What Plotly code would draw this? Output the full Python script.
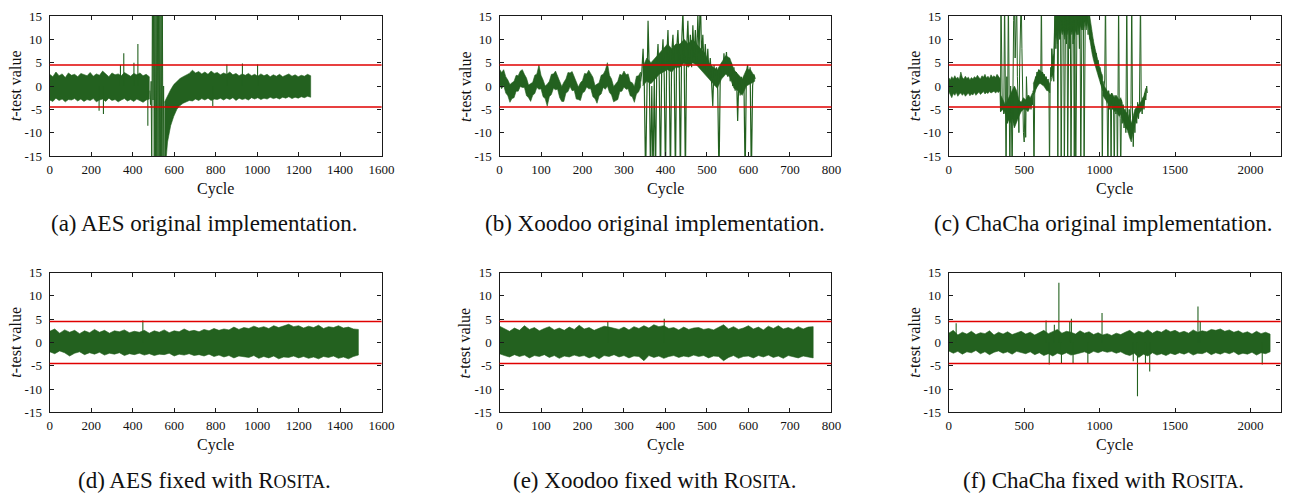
import plotly.graph_objects as go

# ---------------------------------------------------------------------------
# Welch t-test traces per clock cycle.  Dense noisy stretches are stored as
# upper / lower envelopes, isolated excursions as spikes, and the unstable
# stretches as the raw zig-zag of the trace.
# ---------------------------------------------------------------------------

# (a) AES, original implementation
AES_O_BAND1_CYC = list(range(0, 481, 15))
AES_O_BAND1_HI = [2.5, 2.0, 3.0, 2.2, 2.6, 1.8, 2.8, 2.3, 2.5, 2.0,
                  2.7, 2.4, 2.2, 2.9, 2.1, 2.6, 2.3, 3.2, 2.5, 2.0,
                  2.8, 2.4, 2.6, 2.2, 2.9, 2.5, 2.1, 2.7, 2.4, 2.8,
                  2.2, 2.5, 2.0]
AES_O_BAND1_LO = [-3.0, -3.3, -2.6, -3.1, -2.8, -3.4, -2.9, -3.0, -2.7, -3.2,
                  -2.8, -3.3, -2.9, -3.1, -2.7, -3.4, -3.0, -2.8, -3.3, -2.6,
                  -3.1, -2.9, -3.4, -3.0, -2.7, -3.2, -2.9, -3.3, -2.8, -3.1,
                  -3.5, -3.0, -2.8]
AES_O_BURST_CYC = list(range(483, 554, 3))
AES_O_BURST_T = [-1, -4, 1, -20, 20, -3, 20, -20, 20, -20, 20, -20,
                 20, -20, 20, -20, 20, -20, 20, -20, 20, -20, 0, -20]
AES_O_BAND2_CYC = list(range(553, 1259, 15))
AES_O_BAND2_HI = [-3.5, -2.0, -0.8, 0.3, 1.0, 1.6, 2.0, 2.4, 2.7, 3.4,
                  2.8, 3.1, 2.6, 3.0, 2.5, 3.2, 2.7, 2.9, 2.4, 2.8,
                  2.5, 3.0, 2.4, 2.7, 2.2, 2.6, 2.3, 2.7, 2.2, 2.5,
                  2.1, 2.6, 2.2, 2.5, 2.0, 2.4, 2.1, 2.5, 2.0, 2.3,
                  2.6, 2.1, 2.4, 2.0, 2.3, 2.1, 2.5, 2.2]
AES_O_BAND2_LO = [-20, -12, -8.5, -6.5, -5.0, -4.2, -3.7, -3.4, -3.1, -3.2,
                  -2.8, -3.1, -2.7, -3.0, -2.6, -3.1, -2.8, -2.9, -2.6, -3.0,
                  -2.6, -2.9, -2.5, -3.1, -2.6, -2.9, -2.7, -3.0, -2.5, -2.8,
                  -2.5, -2.9, -2.6, -2.8, -2.4, -2.7, -2.5, -2.8, -2.4, -2.6,
                  -2.3, -2.7, -2.4, -2.6, -2.3, -2.5, -2.2, -2.4]
AES_O_SPIKE_CYC = [238, 259, 341, 357, 406, 425, 473, 786, 854, 929, 1002]
AES_O_SPIKE_T = [-5.3, -6.0, 4.5, 7.0, 5.0, 9.0, -8.5, -4.3, 4.6, 4.8, 4.6]

# (b) Xoodoo, original implementation
XOO_O_BAND_CYC = list(range(0, 341, 5))
XOO_O_BAND_HI = [3.6, 2.9, 3.5, 2.0, 1.3, 0.3, 0.7, 1.0, 2.3, 2.2,
                 3.2, 3.5, 2.5, 1.7, 0.2, 0.6, 0.8, 2.3, 2.6, 4.5,
                 2.3, 1.3, 0.0, 0.4, 1.0, 2.5, 2.6, 3.2, 2.1, 1.3,
                 -0.1, 0.8, 1.5, 2.9, 2.8, 3.1, 1.9, 1.1, -0.2, 0.7,
                 1.2, 2.7, 2.6, 3.4, 2.5, 1.9, 0.1, 0.5, 0.7, 2.3,
                 2.5, 3.4, 5.0, 2.3, 1.5, -0.1, 0.6, 1.0, 2.5, 2.3,
                 3.2, 2.4, 2.6, 0.9, 0.7, -0.1, 2.1, 2.2, 3.0]
XOO_O_BAND_LO = [0.3, -0.6, 0.1, -1.5, -2.1, -3.5, -2.7, -2.5, -1.1, -1.1,
                 -0.1, -0.3, -0.3, -2.1, -2.5, -3.3, -2.0, -1.6, -0.3, -0.7,
                 -0.6, -2.3, -2.7, -4.3, -2.3, -1.8, -0.5, -0.8, -0.7, -2.5,
                 -3.3, -3.3, -1.5, -1.2, -0.1, -1.0, -0.9, -2.8, -2.9, -3.1,
                 -1.5, -1.2, -0.2, -0.6, -0.6, -2.3, -2.7, -3.7, -2.1, -1.7,
                 -0.3, -0.7, 0.0, -1.4, -1.9, -3.4, -3.2, -2.9, -1.2, -1.1,
                 -0.2, -0.7, -0.6, -2.1, -2.3, -3.5, -1.7, -1.3, -0.2]
XOO_O_BAND2_CYC = list(range(345, 616, 10))
XOO_O_BAND2_HI = [4, 6, 5, 6, 7, 8, 9, 8, 9, 9,
                  10, 9, 10, 9, 8, 7, 5, 4, 3.5, 5,
                  6.5, 6, 3.5, 2.5, 1.5, 3.5, 3.5, 2]
XOO_O_BAND2_LO = [0, 1, 0.5, 1.5, 2.5, 3, 3.5, 3, 4, 4,
                  5, 4, 5, 4.5, 3.5, 2.5, 1.5, 0.5, -0.5, 1.5,
                  2.5, 2, -0.5, -1, -2, 0, 0.5, 1]
XOO_O_BURST_CYC = list(range(340, 617, 3))
XOO_O_BURST_T = [1, 3, 8, 0, -20, 2, 14, 3, -20, 0,
                 -20, 2, -20, 4, 9, 1, -20, 5, 10, 2,
                 -20, 6, 12, 3, -20, 7, 11, 4, -20, 8,
                 12, 5, -20, 9, 16, 6, -20, 8, 14, 5,
                 11, 4, 13, 6, 12, 5, 15, 7, 20, 6,
                 11, 4, 9, 3, 8, 2, 6, 1, -4.3, 4.5,
                 0, 4, -1, -20, 2, 5, 2, 7, 3, 7.3,
                 2, 6, 1, 5, 0, 4, -1, 3, -7.5, 2,
                 -2, 2, -1, 2, -20, 3, 4.5, 1, 4, -20,
                 0, 2.5, 1.5]

# (c) ChaCha, original implementation
CHA_O_BAND_CYC = list(range(0, 341, 10))
CHA_O_BAND_HI = [1.8, 1.3, 2.0, 1.5, 2.2, 1.6, 1.9, 1.4, 3.0, 1.8,
                 1.5, 2.1, 1.6, 1.9, 1.3, 1.8, 1.5, 2.0, 1.7, 2.3,
                 1.8, 1.5, 2.2, 1.9, 2.5, 1.7, 2.1, 1.6, 2.4, 1.9,
                 2.2, 1.8, 2.5, 2.0, 1.6]
CHA_O_BAND_LO = [-1.2, -1.8, -2.5, -1.6, -2.0, -1.4, -2.2, -1.7, -1.5, -2.0,
                 -1.6, -2.2, -1.8, -1.5, -2.1, -1.7, -1.9, -1.4, -2.0, -1.6,
                 -1.3, -1.8, -1.5, -1.2, -1.7, -1.4, -1.6, -1.2, -1.5, -1.3,
                 -1.1, -1.5, -1.2, -1.4, -1.0]
CHA_O_BAND2_CYC = list(range(345, 561, 15))
CHA_O_BAND2_HI = [-2, -3, -4, -3, -2, -1, 0, -1, -3, -3.5, -2.5, -3, -2, -2.5, -1.5]
CHA_O_BAND2_LO = [-5.5, -5, -6, -7, -8, -7, -9, -8, -6.5, -5.5, -5, -5, -5.5, -4.5, -4]
CHA_O_BAND3_CYC = list(range(560, 671, 10))
CHA_O_BAND3_HI = [0.5, 1.5, 2.5, 3.0, 3.5, 3.2, 3.0, 2.5, 2.0, 1.5, 1.0, 0.5]
CHA_O_BAND3_LO = [-2.0, -1.5, -0.5, 0.0, 0.5, 0.5, 0.2, 0.0, -0.5, -1.0, -1.0, -1.5]
CHA_O_BAND4_CYC = list(range(680, 929, 8))
CHA_O_BAND4_HI = [8, 6, 7, 16, 16, 16, 16, 16, 16, 16,
                  16, 16, 16, 16, 16, 16, 16, 16, 16, 16,
                  16, 16, 16, 16, 16, 16, 16, 16, 16, 16,
                  16, 16]
CHA_O_BAND4_LO = [1, 2, 3, 10, 11, 9, 12, 10, 12, 11,
                  12, 10, 12, 11, 12, 10, 12, 11, 12, 10,
                  12, 11, 13, 11, 13, 12, 13, 12, 14, 12,
                  14, 13]
CHA_O_BAND5_CYC = list(range(930, 1021, 10))
CHA_O_BAND5_HI = [16, 13.5, 11.5, 9.5, 8, 6.5, 5, 4, 3, 2]
CHA_O_BAND5_LO = [11, 9, 7, 5.5, 4, 3, 2, 1, 0, -1]
CHA_O_BAND6_CYC = list(range(1020, 1151, 10))
CHA_O_BAND6_HI = [0.5, 0, -0.5, -1, -1.5, -2, -1.5, -2, -2.5, -2, -2.5, -3, -2.5, -3.5]
CHA_O_BAND6_LO = [-2, -2.5, -3, -3.5, -4, -4.5, -4, -5, -5.5, -5, -6, -6.5, -6, -7]
CHA_O_BAND7_CYC = list(range(1150, 1317, 12))
CHA_O_BAND7_HI = [-4, -5, -5.5, -6, -7, -8, -6.5, -5, -4.5, -4, -3.5, -3, -2, -0.5]
CHA_O_BAND7_LO = [-7, -8, -9, -9.5, -11, -12, -10, -8, -7, -6, -5.5, -5, -4, -2]
CHA_O_BURST_CYC = [340, 343, 346, 350, 355, 360, 365, 370, 375, 380,
                   385, 390, 395, 400, 405, 410, 415, 420, 425, 430,
                   435, 440, 445, 450, 455, 460, 465, 470, 475, 480,
                   485, 490, 495, 500, 505, 510, 515, 520, 525, 530,
                   535, 540, 545, 550, 555, 560, 565, 570, 575, 580,
                   585, 590, 595, 600, 605, 610, 614, 618, 622, 628,
                   634, 640, 646, 652, 658, 664, 668, 672, 676, 680,
                   684, 688, 692, 696, 700, 705, 710, 715, 720, 723,
                   727, 732, 737, 741, 745, 749, 753, 758, 762, 766,
                   770, 775, 780, 785, 788, 792, 797, 802, 806, 810,
                   814, 819, 824, 828, 832, 836, 842, 846, 851, 856,
                   861, 866, 870, 875, 879, 884, 889, 893, 897, 901,
                   906, 912, 918, 924, 930, 936, 942, 948, 954, 960,
                   966, 972, 978, 984, 990, 996, 1002, 1008, 1014, 1018,
                   1022, 1028, 1034, 1039, 1044, 1050, 1055, 1060, 1066, 1072,
                   1076, 1080, 1086, 1092, 1097, 1102, 1108, 1114, 1118, 1122,
                   1126, 1130, 1136, 1140, 1145, 1150, 1156, 1162, 1168, 1174,
                   1180, 1185, 1190, 1196, 1202, 1208, 1213, 1218, 1223, 1228,
                   1234, 1240, 1246, 1252, 1258, 1264, 1271, 1276, 1282, 1288,
                   1294, 1300, 1306, 1312, 1316]
CHA_O_BURST_T = [-1, -5.5, 20, -3, -5, -4, -6, 20, -3, -20,
                 2, -8, 20, -12, -20, 0, -5, -20, 3, 14,
                 20, 6, 12, 20, 2, -6, -10, 4, 12, 20,
                 8, -4, -10, -12, -4, -11, 2, -3, -5, -2,
                 -4.5, -3, -5, -2.5, -4, -1, -20, 0, 2, -0.5,
                 3, 0.5, 3.5, 1, 3, 1.5, 20, 2, 3, 0.5,
                 2.5, 0, 2, -0.5, 1.5, -0.5, -20, 0, 4, 2,
                 8, 3, 6, 1, 5, 20, 8, 15, 10, -20,
                 12, 20, 10, 14, -20, 8, 20, 12, 16, -20,
                 10, 20, 9, 14, -20, 11, 20, 8, 15, -20,
                 10, 20, 9, 14, -20, 12, -20, 9, 20, 11,
                 15, 8, 20, -20, 10, 20, 12, 16, -20, 12,
                 20, 13, 15, 11, 16, 10, 12, 8, 10, 6,
                 8.5, 4.5, 7, 3.5, 5.5, 2, 4, 0.5, 2.5, -20,
                 1, -1, 1.5, 20, -2, -4.5, -20, -1, -5, -2,
                 -20, -1.5, -5, -2.5, -20, -2, -6, -3, -20, -2,
                 20, -3, -7, -20, -3, -8, -4, -9, -5, -10,
                 20, -6, -10, -5, -9, -4, 20, -6, -13, -7,
                 -10, -5, -8, -3.5, -7, -4, 20, -4, -6, -2.5,
                 -5, -1.5, -3, 0, -1.5]

# (d) AES, fixed with Rosita
AES_F_BAND_CYC = list(range(0, 1489, 24))
AES_F_BAND_HI = [2.4, 2.9, 2.0, 2.7, 2.2, 2.6, 1.9, 2.5, 2.1, 2.8,
                 2.2, 2.6, 2.0, 2.5, 2.3, 2.7, 2.1, 2.4, 2.2, 2.6,
                 2.0, 2.5, 2.2, 2.7, 2.1, 2.5, 2.3, 2.9, 2.4, 2.6,
                 2.3, 2.8, 2.5, 3.0, 2.6, 2.9, 2.7, 3.3, 2.8, 3.2,
                 3.0, 3.5, 3.1, 3.4, 3.0, 3.6, 3.2, 3.5, 3.9, 3.4,
                 3.6, 3.1, 3.5, 3.2, 3.7, 3.0, 3.4, 3.2, 3.6, 3.1,
                 3.3, 2.9, 2.8]
AES_F_BAND_LO = [-2.0, -2.4, -1.8, -2.2, -2.9, -2.3, -2.0, -2.6, -2.2, -2.5,
                 -2.1, -2.7, -2.3, -2.5, -2.2, -2.8, -2.4, -2.6, -2.3, -2.7,
                 -2.4, -2.8, -2.5, -2.6, -2.3, -2.9, -2.5, -2.7, -2.4, -2.8,
                 -2.6, -2.9, -2.5, -3.0, -2.7, -3.1, -2.8, -3.3, -2.9, -3.0,
                 -3.2, -2.8, -3.4, -3.0, -3.3, -2.9, -3.5, -3.1, -3.2, -2.9,
                 -3.3, -3.0, -3.4, -3.1, -3.5, -3.0, -3.2, -2.9, -3.4, -3.1,
                 -3.5, -3.0, -2.7]
AES_F_SPIKE_CYC = [449]
AES_F_SPIKE_T = [4.7]

# (e) Xoodoo, fixed with Rosita
XOO_F_BAND_CYC = list(range(0, 757, 12))
XOO_F_BAND_HI = [3.5, 2.9, 2.4, 3.1, 2.6, 3.6, 2.8, 3.2, 2.5, 3.0,
                 3.4, 2.7, 3.1, 2.6, 3.3, 2.8, 3.7, 2.9, 3.2, 2.6,
                 3.0, 3.5, 3.3, 3.0, 2.8, 3.3, 2.7, 3.4, 3.0, 3.6,
                 3.1, 3.8, 3.4, 3.6, 3.0, 3.2, 2.7, 3.3, 2.8, 3.1,
                 3.2, 2.8, 3.0, 2.7, 3.2, 3.8, 2.9, 3.4, 2.8, 3.1,
                 3.6, 2.9, 3.3, 2.7, 3.5, 3.0, 3.6, 2.9, 3.2, 2.8,
                 3.4, 2.9, 3.3, 3.4]
XOO_F_BAND_LO = [-2.4, -2.8, -3.1, -2.6, -3.0, -2.7, -3.3, -2.8, -3.0, -2.6,
                 -3.2, -2.8, -3.4, -2.9, -3.1, -2.7, -3.0, -2.8, -3.3, -2.9,
                 -3.5, -2.8, -3.0, -2.6, -3.1, -2.8, -3.3, -2.9, -3.0, -3.9,
                 -2.8, -3.2, -2.9, -3.4, -3.0, -2.8, -3.2, -2.9, -3.1, -2.7,
                 -3.0, -2.8, -3.3, -2.9, -3.0, -3.9, -3.2, -2.8, -3.4, -3.0,
                 -2.9, -3.3, -2.8, -3.1, -2.7, -3.2, -2.9, -3.4, -2.8, -3.0,
                 -3.3, -2.9, -3.1, -3.3]
XOO_F_SPIKE_CYC = [261, 397]
XOO_F_SPIKE_T = [4.5, 5.1]

# (f) ChaCha, fixed with Rosita
CHA_F_BAND_CYC = list(range(0, 2131, 30))
CHA_F_BAND_HI = [2.0, 2.6, 1.6, 2.2, 1.8, 2.4, 1.7, 2.1, 1.9, 2.5,
                 1.6, 2.2, 1.8, 2.3, 1.7, 2.0, 2.4, 1.8, 2.2, 1.6,
                 2.1, 2.6, 1.9, 2.3, 2.8, 2.0, 2.4, 2.2, 1.8, 2.5,
                 2.0, 2.3, 1.7, 2.1, 1.6, 1.9, 1.5, 2.0, 1.7, 2.2,
                 2.6, 1.9, 2.4, 2.1, 2.7, 2.0, 2.5, 2.2, 2.8, 2.3,
                 2.6, 2.1, 2.4, 2.0, 2.7, 2.2, 2.5, 2.3, 2.8, 2.6,
                 2.9, 2.4, 2.7, 2.2, 2.5, 2.0, 2.3, 1.8, 2.4, 1.9,
                 2.2, 1.8]
CHA_F_BAND_LO = [-1.8, -2.3, -1.9, -2.5, -2.0, -2.2, -1.7, -2.4, -2.0, -2.6,
                 -2.1, -1.8, -2.3, -2.0, -2.5, -1.9, -2.2, -2.4, -2.0, -2.6,
                 -2.2, -2.8, -2.4, -2.9, -2.3, -2.6, -2.2, -2.7, -2.5, -2.3,
                 -2.0, -2.4, -1.9, -2.2, -1.8, -2.1, -1.9, -2.3, -2.0, -2.5,
                 -2.8, -2.3, -3.2, -2.5, -2.9, -2.2, -2.7, -2.4, -2.8, -2.3,
                 -2.6, -2.2, -2.5, -2.1, -2.7, -2.3, -2.4, -2.0, -2.6, -2.2,
                 -2.5, -2.1, -2.4, -2.0, -2.6, -2.3, -2.5, -2.1, -2.7, -2.2,
                 -2.4, -2.0]
CHA_F_SPIKE_CYC = [49, 645, 666, 700, 730, 747, 802, 813, 824, 922,
                   1016, 1223, 1251, 1304, 1332, 1652, 1667, 2078]
CHA_F_SPIKE_T = [4.1, 4.7, -4.7, 3.8, 12.8, -4.5, 4.5, 5.1, -4.5, -4.6,
                 6.3, -4.0, -11.5, -4.5, -6.2, 7.7, 4.6, -4.7]

# axis ticks
Y_TICKS = [-15, -10, -5, 0, 5, 10, 15]
Y_TICK_TEXT = ["-15", "-10", "-5", "0", "5", "10", "15"]
X_TICKS_AES = [0, 200, 400, 600, 800, 1000, 1200, 1400, 1600]
X_TICKS_XOO = [0, 100, 200, 300, 400, 500, 600, 700, 800]
X_TICKS_CHA = [0, 500, 1000, 1500, 2000]
THRESHOLD = 4.5

# ---------------------------------------------------------------------------
W, H = 1305, 501
GREEN = "#23611f"
RED = "#e00000"
FONT = '"Liberation Serif", "Times New Roman", serif'
COL_LEFT = [47.3, 502.7, 957.5]
PLOT_W = 336.0
ROW_TOP = [9.3, 273.7]
PLOT_H = 144.3
SC = "<span style='font-size:18px'>OSITA</span>"

panels = [
    dict(row=0, col=0, xmax=1600, xt=X_TICKS_AES, cap="(a) AES original implementation."),
    dict(row=0, col=1, xmax=800, xt=X_TICKS_XOO, cap="(b) Xoodoo original implementation."),
    dict(row=0, col=2, xmax=2200, xt=X_TICKS_CHA, cap="(c) ChaCha original implementation."),
    dict(row=1, col=0, xmax=1600, xt=X_TICKS_AES, cap="(d) AES fixed with R" + SC + "."),
    dict(row=1, col=1, xmax=800, xt=X_TICKS_XOO, cap="(e) Xoodoo fixed with R" + SC + "."),
    dict(row=1, col=2, xmax=2200, xt=X_TICKS_CHA, cap="(f) ChaCha fixed with R" + SC + "."),
]


def axes_ids(i):
    return ("x" if i == 1 else f"x{i}"), ("y" if i == 1 else f"y{i}")


def band(i, cyc, hi, lo):
    xa, ya = axes_ids(i)
    return go.Scatter(x=list(cyc) + list(cyc)[::-1], y=list(hi) + list(lo)[::-1],
                      fill="toself", fillcolor=GREEN, mode="lines",
                      line=dict(color=GREEN, width=0.6), xaxis=xa, yaxis=ya,
                      hoverinfo="skip", showlegend=False)


def trace(i, cyc, val, width=1.0):
    xa, ya = axes_ids(i)
    return go.Scatter(x=cyc, y=val, mode="lines", line=dict(color=GREEN, width=width),
                      xaxis=xa, yaxis=ya, hoverinfo="skip", showlegend=False)


def spikes(i, cyc, val):
    xs, ys = [], []
    for c, v in zip(cyc, val):
        xs += [c, c, None]
        ys += [0, v, None]
    return trace(i, xs, ys, width=1.1)


fig = go.Figure()
fig.add_trace(band(1, AES_O_BAND1_CYC, AES_O_BAND1_HI, AES_O_BAND1_LO))
fig.add_trace(trace(1, AES_O_BURST_CYC, AES_O_BURST_T))
fig.add_trace(band(1, AES_O_BAND2_CYC, AES_O_BAND2_HI, AES_O_BAND2_LO))
fig.add_trace(spikes(1, AES_O_SPIKE_CYC, AES_O_SPIKE_T))

fig.add_trace(band(2, XOO_O_BAND_CYC, XOO_O_BAND_HI, XOO_O_BAND_LO))
fig.add_trace(band(2, XOO_O_BAND2_CYC, XOO_O_BAND2_HI, XOO_O_BAND2_LO))
fig.add_trace(trace(2, XOO_O_BURST_CYC, XOO_O_BURST_T, width=1.2))

fig.add_trace(band(3, CHA_O_BAND_CYC, CHA_O_BAND_HI, CHA_O_BAND_LO))
for cyc, hi, lo in [(CHA_O_BAND2_CYC, CHA_O_BAND2_HI, CHA_O_BAND2_LO),
                    (CHA_O_BAND3_CYC, CHA_O_BAND3_HI, CHA_O_BAND3_LO),
                    (CHA_O_BAND4_CYC, CHA_O_BAND4_HI, CHA_O_BAND4_LO),
                    (CHA_O_BAND5_CYC, CHA_O_BAND5_HI, CHA_O_BAND5_LO),
                    (CHA_O_BAND6_CYC, CHA_O_BAND6_HI, CHA_O_BAND6_LO),
                    (CHA_O_BAND7_CYC, CHA_O_BAND7_HI, CHA_O_BAND7_LO)]:
    fig.add_trace(band(3, cyc, hi, lo))
fig.add_trace(trace(3, CHA_O_BURST_CYC, CHA_O_BURST_T, width=1.0))

fig.add_trace(band(4, AES_F_BAND_CYC, AES_F_BAND_HI, AES_F_BAND_LO))
fig.add_trace(spikes(4, AES_F_SPIKE_CYC, AES_F_SPIKE_T))

fig.add_trace(band(5, XOO_F_BAND_CYC, XOO_F_BAND_HI, XOO_F_BAND_LO))
fig.add_trace(spikes(5, XOO_F_SPIKE_CYC, XOO_F_SPIKE_T))

fig.add_trace(band(6, CHA_F_BAND_CYC, CHA_F_BAND_HI, CHA_F_BAND_LO))
fig.add_trace(spikes(6, CHA_F_SPIKE_CYC, CHA_F_SPIKE_T))

axis_common = dict(showgrid=False, zeroline=False, showline=True, mirror="ticks",
                   linecolor="#1a1a1a", linewidth=1.4, ticks="inside", ticklen=4,
                   tickwidth=1, tickcolor="#1a1a1a",
                   tickfont=dict(family=FONT, size=13, color="#111"))

layout = dict(width=W, height=H, margin=dict(l=0, r=0, t=0, b=0),
              paper_bgcolor="white", plot_bgcolor="white", showlegend=False)
shapes, annotations = [], []
for i, p in enumerate(panels, start=1):
    left = COL_LEFT[p["col"]]
    top = ROW_TOP[p["row"]]
    xd = [left / W, (left + PLOT_W) / W]
    yd = [1 - (top + PLOT_H) / H, 1 - top / H]
    sfx = "" if i == 1 else str(i)
    layout["xaxis" + sfx] = dict(axis_common, domain=xd, range=[0, p["xmax"]],
                                 tickvals=p["xt"], ticktext=[str(t) for t in p["xt"]],
                                 anchor="y" + sfx, ticklabelstandoff=1)
    layout["yaxis" + sfx] = dict(axis_common, domain=yd, range=[-15, 15],
                                 tickvals=Y_TICKS, ticktext=Y_TICK_TEXT,
                                 anchor="x" + sfx, ticklabelstandoff=4)
    for lvl in (THRESHOLD, -THRESHOLD):
        shapes.append(dict(type="line", xref=f"x{sfx} domain", x0=0, x1=1,
                           yref="y" + sfx, y0=lvl, y1=lvl, layer="above",
                           line=dict(color=RED, width=1.3)))
    cx = left + PLOT_W / 2
    annotations.append(dict(text="Cycle", x=cx / W, y=1 - (top + 178) / H,
                            xref="paper", yref="paper", showarrow=False,
                            xanchor="center", yanchor="middle",
                            font=dict(family=FONT, size=16, color="#111")))
    annotations.append(dict(text="<i>t</i>-test value", x=(left - 35) / W,
                            y=1 - (top + PLOT_H / 2) / H, xref="paper", yref="paper",
                            showarrow=False, textangle=-90, xanchor="center",
                            yanchor="middle", font=dict(family=FONT, size=16, color="#111")))
    annotations.append(dict(text=p["cap"], x=(cx - 11) / W, y=1 - (top + 214) / H,
                            xref="paper", yref="paper", showarrow=False,
                            xanchor="center", yanchor="middle",
                            font=dict(family=FONT, size=23, color="#111")))

layout["shapes"] = shapes
layout["annotations"] = annotations
fig.update_layout(**layout)
fig.write_html("out.html")
